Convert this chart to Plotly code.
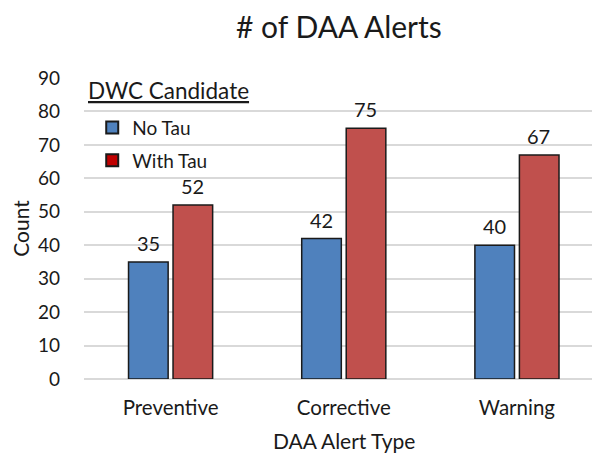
import plotly.graph_objects as go

categories = ['Preventive', 'Corrective', 'Warning']
no_tau = [35, 42, 40]
with_tau = [52, 75, 67]
y_ticks = [0, 10, 20, 30, 40, 50, 60, 70, 80, 90]

FONT = 'Lato'
INK = '#1a1a1a'

fig = go.Figure()

fig.add_trace(go.Bar(
    x=categories, y=no_tau, name='No Tau',
    marker=dict(color='#4F81BD', line=dict(color=INK, width=1.5)),
    showlegend=False
))
fig.add_trace(go.Bar(
    x=categories, y=with_tau, name='With Tau',
    marker=dict(color='#C0504D', line=dict(color=INK, width=1.5)),
    showlegend=False
))

# legend entries (the legend swatches use their own colours)
fig.add_trace(go.Scatter(
    x=[None], y=[None], mode='markers', name='No Tau', legendgroup='a',
    marker=dict(symbol='square', size=13, color='#4F81BD', line=dict(color=INK, width=1.2))
))
fig.add_trace(go.Scatter(
    x=[None], y=[None], mode='markers', name='With Tau', legendgroup='b',
    marker=dict(symbol='square', size=13, color='#C00000', line=dict(color=INK, width=1.2))
))

# value labels above the bars
for vals, shift in [(no_tau, -22), (with_tau, 22)]:
    for cat, v in zip(categories, vals):
        fig.add_annotation(x=cat, y=v, text=str(v), showarrow=False, xshift=shift,
                           yanchor='bottom', yshift=6, borderpad=0,
                           font=dict(size=20, family=FONT, color=INK))

fig.add_annotation(text='<u>DWC Candidate</u>', xref='paper', yref='paper', x=0.004, y=0.96,
                   showarrow=False, xanchor='left', yanchor='middle',
                   font=dict(size=22.5, family=FONT, color=INK))
fig.add_annotation(text='Count', xref='paper', yref='paper', x=-0.124, y=0.5,
                   textangle=-90, showarrow=False, xanchor='center', yanchor='middle',
                   font=dict(size=21, family=FONT, color=INK))
fig.add_annotation(text='DAA Alert Type', xref='paper', yref='paper', x=0.506, y=-0.203,
                   showarrow=False, xanchor='center', yanchor='middle',
                   font=dict(size=21, family=FONT, color=INK))

# page body adds 8px margin, so the figure is 8px smaller than the window
fig.update_layout(
    width=592, height=450,
    margin=dict(l=76, r=2, t=70, b=79),
    paper_bgcolor='white', plot_bgcolor='white',
    font=dict(family=FONT, size=19, color=INK),
    title=dict(text='# of DAA Alerts', x=0.559, xanchor='center', y=0.957, yanchor='middle',
               font=dict(size=30, family=FONT, color=INK)),
    barmode='group', bargap=0.486, bargroupgap=0.11,
    legend=dict(
        x=0.016, y=0.898, xanchor='left', yanchor='top',
        font=dict(size=19, family=FONT),
        bgcolor='rgba(255,255,255,0)', tracegroupgap=5, itemsizing='constant'
    ),
    xaxis=dict(
        range=[-0.5, 2.468],
        tickfont=dict(size=20.5, family=FONT), showline=False, ticks='', showgrid=False,
        automargin=False, ticklabelstandoff=14
    ),
    yaxis=dict(
        range=[0, 90], tickvals=y_ticks, tickfont=dict(size=19, family=FONT),
        showgrid=True, gridcolor='#d9d9d9', gridwidth=1.5, zeroline=True,
        zerolinecolor='#d9d9d9', zerolinewidth=1.5, showline=False, ticks='',
        automargin=False, ticklabelstandoff=23
    ),
)

fig.write_html('out.html')
